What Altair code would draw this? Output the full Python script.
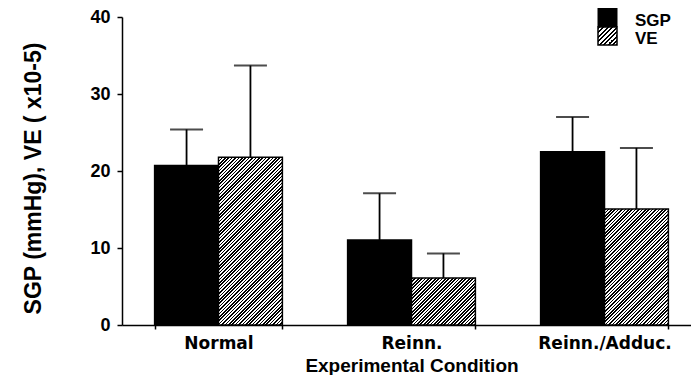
import altair as alt
import pandas as pd

# ---------------- data ----------------
conditions = ["Normal", "Reinn.", "Reinn./Adduc."]
series = ["SGP", "VE"]
sgp_mean = [20.7, 11.05, 22.5]
sgp_upper = [25.4, 17.1, 27.0]
ve_mean = [21.8, 6.1, 15.05]
ve_upper = [33.7, 9.3, 23.0]
y_ticks = [0, 10, 20, 30, 40]

# ---------------- layout / style ----------------
PLOT_W = 569
PLOT_H = 308
X_RANGE = 579
Y_MAX = 40
PAD_INNER = 0.338
PX_PER_UNIT = PLOT_H / Y_MAX
STEP = X_RANGE / 3.0
BAR_W = STEP * (1 - PAD_INNER) / 2.0
FONT = "Liberation Sans"


def hatch(w, h, period=3.4, duty=0.5):
    """Diagonal (///) black/white stripes as a linear gradient over a w x h box."""
    L = w + h
    n = int(L / period) + 1
    stops = []
    for i in range(n + 1):
        s0 = min(i * period / L, 1.0)
        s1 = min((i * period + period * duty) / L, 1.0)
        s2 = min((i + 1) * period / L, 1.0)
        stops += [
            {"offset": s0, "color": "black"},
            {"offset": s1, "color": "black"},
            {"offset": s1, "color": "white"},
            {"offset": s2, "color": "white"},
        ]
    d = w * w + h * h
    return {"gradient": "linear", "x1": 0, "y1": 0,
            "x2": L * w / d, "y2": L * h / d, "stops": stops}


rows = []
for c, m, u in zip(conditions, sgp_mean, sgp_upper):
    rows.append({"cond": c, "series": series[0], "mean": m, "upper": u})
for c, m, u in zip(conditions, ve_mean, ve_upper):
    rows.append({"cond": c, "series": series[1], "mean": m, "upper": u})
df = pd.DataFrame(rows)
legend_df = pd.DataFrame({"series": series})

fill_conditions = []
for c, m in zip(conditions, ve_mean):
    fill_conditions.append({
        "test": f"datum.cond === '{c}' && datum.series === 'VE'",
        "value": hatch(BAR_W, m * PX_PER_UNIT),
    })

x_enc = alt.X(
    "cond:N",
    sort=conditions,
    scale=alt.Scale(domain=conditions, range=[0, X_RANGE],
                    paddingInner=PAD_INNER, paddingOuter=PAD_INNER / 2),
    axis=alt.Axis(
        title="Experimental Condition",
        labelAngle=0,
        tickBand="extent",
        tickSize=4,
        tickWidth=1.5,
        tickColor="black",
        domainColor="black",
        domainWidth=1.5,
        labelFont="DejaVu Sans",
        labelFontSize=17,
        labelFontWeight="bold",
        labelColor="black",
        labelPadding=6,
        titleFont=FONT,
        titleFontSize=19,
        titleFontWeight="bold",
        titleColor="black",
        titleBaseline="alphabetic",
        titleY=46,
    ),
)
xoff = alt.XOffset("series:N", sort=series,
                   scale=alt.Scale(domain=series, paddingInner=0, paddingOuter=0))
y_axis = alt.Axis(
    title="SGP (mmHg), VE ( x10-5)",
    values=y_ticks,
    grid=False,
    tickSize=5,
    tickWidth=1.5,
    tickColor="black",
    domainColor="black",
    domainWidth=1.5,
    labelFont=FONT,
    labelFontSize=18,
    labelFontWeight="bold",
    labelColor="black",
    labelPadding=7,
    titleFont=FONT,
    titleFontSize=23,
    titleFontWeight="bold",
    titleColor="black",
    titleAngle=270,
    titleBaseline="alphabetic",
    titleAlign="center",
    titleX=-82,
    titleY=161,
)
y_scale = alt.Scale(domain=[0, Y_MAX], nice=False)

base = alt.Chart(df)

stems = base.mark_rule(color="black", strokeWidth=1.8).encode(
    x=x_enc, xOffset=xoff,
    y=alt.Y("upper:Q", scale=y_scale, axis=y_axis),
    y2=alt.Y2("mean:Q"),
)
caps = base.mark_tick(color="black", size=33, thickness=2, orient="horizontal").encode(
    x=x_enc, xOffset=xoff,
    y=alt.Y("upper:Q", scale=y_scale, axis=y_axis),
)
bars = base.mark_bar(stroke="black", strokeWidth=1.5).encode(
    x=x_enc, xOffset=xoff,
    y=alt.Y("mean:Q", scale=y_scale, axis=y_axis),
    fill={"condition": fill_conditions, "value": "black"},
)

# legend (top right)
leg_sgp_box = alt.Chart(legend_df).transform_filter("datum.series === 'SGP'").mark_rect(
    fill="black", stroke="black", strokeWidth=1
).encode(x=alt.value(476), x2=alt.value(495), y=alt.value(-9), y2=alt.value(10))
leg_ve_box = alt.Chart(legend_df).transform_filter("datum.series === 'VE'").mark_rect(
    fill=hatch(19, 18, period=4.5), stroke="black", strokeWidth=1.5
).encode(x=alt.value(476), x2=alt.value(495), y=alt.value(10), y2=alt.value(28))
leg_sgp_txt = alt.Chart(legend_df).transform_filter("datum.series === 'SGP'").mark_text(
    align="left", baseline="alphabetic", font=FONT, fontSize=17, fontWeight="bold", color="black"
).encode(x=alt.value(513), y=alt.value(9), text="series:N")
leg_ve_txt = alt.Chart(legend_df).transform_filter("datum.series === 'VE'").mark_text(
    align="left", baseline="alphabetic", font=FONT, fontSize=17, fontWeight="bold", color="black"
).encode(x=alt.value(513), y=alt.value(27), text="series:N")

chart = alt.layer(
    stems, bars, caps, leg_sgp_box, leg_ve_box, leg_sgp_txt, leg_ve_txt
).properties(
    width=PLOT_W,
    height=PLOT_H,
    padding={"left": 114, "top": 9, "right": 0, "bottom": 50},
    autosize=alt.AutoSizeParams(type="none"),
    background="white",
).configure_view(stroke=None)

chart.save("out.html", embed_options={"renderer": "svg", "actions": False})
